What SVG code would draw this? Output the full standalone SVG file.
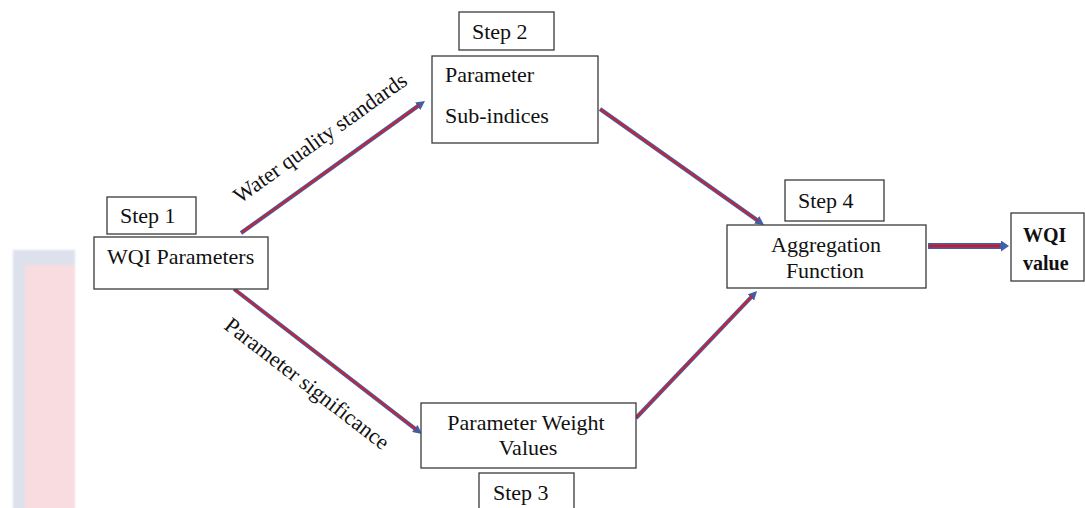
<svg xmlns="http://www.w3.org/2000/svg" width="1085" height="508" viewBox="0 0 1085 508">
<style>
.box{fill:#fff;stroke:#3a3a3a;stroke-width:1.3}
.t{font-family:"Liberation Serif","Times New Roman",serif;font-size:22px;fill:#111}
.b{font-weight:bold;font-size:20px}
.blue{stroke:#3f5fa8;stroke-width:4;fill:none}
.red{stroke:#d0202a;stroke-width:2;fill:none}
</style>
<defs>
<marker id="ah" viewBox="0 0 9 9" markerWidth="9" markerHeight="9" refX="3" refY="4.5" orient="auto" markerUnits="userSpaceOnUse">
<path d="M0,0 L9,4.5 L0,9 z" fill="#3f5fa8"/>
</marker>
<marker id="ah2" viewBox="0 0 8 11" markerWidth="8" markerHeight="11" refX="2" refY="5.5" orient="auto" markerUnits="userSpaceOnUse">
<path d="M0,0 L8,5.5 L0,11 z" fill="#3f5fa8"/>
</marker>
<filter id="soft" x="-20%" y="-20%" width="140%" height="140%"><feGaussianBlur stdDeviation="1.2"/></filter>
</defs>
<g id="background" filter="url(#soft)">
<rect x="13" y="250" width="62" height="270" fill="#dde1ec"/>
<rect x="25" y="265" width="50" height="260" fill="#f8dcdf"/>
</g>
<g id="connectors">
<line class="blue" x1="241" y1="233" x2="420.1" y2="104.5" marker-end="url(#ah)"/>
<line class="red" x1="241.5" y1="232.6" x2="419.3" y2="105.1"/>
<line class="blue" x1="234" y1="289" x2="417.2" y2="430.3" marker-end="url(#ah)"/>
<line class="red" x1="234.5" y1="289.4" x2="416.5" y2="429.7"/>
<line class="blue" x1="600" y1="109" x2="759.1" y2="221.5" marker-end="url(#ah)"/>
<line class="red" x1="600.5" y1="109.4" x2="758.3" y2="221"/>
<line class="blue" x1="636" y1="418" x2="752.9" y2="295.3" marker-end="url(#ah)"/>
<line class="red" x1="636.4" y1="417.6" x2="752.2" y2="296"/>
<line x1="928" y1="246" x2="1003" y2="246" stroke="#3f5fa8" stroke-width="6" marker-end="url(#ah2)"/>
<line x1="929" y1="246" x2="1000" y2="246" stroke="#e0101a" stroke-width="2.6"/>
<text class="t" transform="translate(240,204) rotate(-35.5)">Water quality standards</text>
<text class="t" transform="translate(223,328) rotate(37.6)">Parameter significance</text>
</g>
<g id="step1">
<rect class="box" x="107" y="197" width="89" height="37"/>
<text class="t" x="120" y="223">Step 1</text>
</g>
<g id="wqi-parameters">
<rect class="box" x="94" y="237" width="174" height="52"/>
<text class="t" x="107" y="264">WQI Parameters</text>
</g>
<g id="step2">
<rect class="box" x="459" y="12" width="95" height="38"/>
<text class="t" x="472" y="39">Step 2</text>
</g>
<g id="sub-indices">
<rect class="box" x="432" y="56" width="166" height="87"/>
<text class="t" x="445" y="82">Parameter</text>
<text class="t" x="445" y="123">Sub-indices</text>
</g>
<g id="step4">
<rect class="box" x="785" y="180" width="99" height="41"/>
<text class="t" x="798" y="208">Step 4</text>
</g>
<g id="aggregation">
<rect class="box" x="727" y="225" width="199" height="63"/>
<text class="t" x="826" y="252" text-anchor="middle">Aggregation</text>
<text class="t" x="825" y="278" text-anchor="middle">Function</text>
</g>
<g id="wqi-value">
<rect class="box" x="1011" y="213" width="73" height="68"/>
<text class="t b" x="1023" y="242">WQI</text>
<text class="t b" x="1023" y="270">value</text>
</g>
<g id="weights">
<rect class="box" x="421" y="403" width="215" height="65"/>
<text class="t" x="526" y="430" text-anchor="middle">Parameter Weight</text>
<text class="t" x="528" y="455" text-anchor="middle">Values</text>
</g>
<g id="step3">
<rect class="box" x="479" y="473" width="95" height="40"/>
<text class="t" x="493" y="500">Step 3</text>
</g>
</svg>
